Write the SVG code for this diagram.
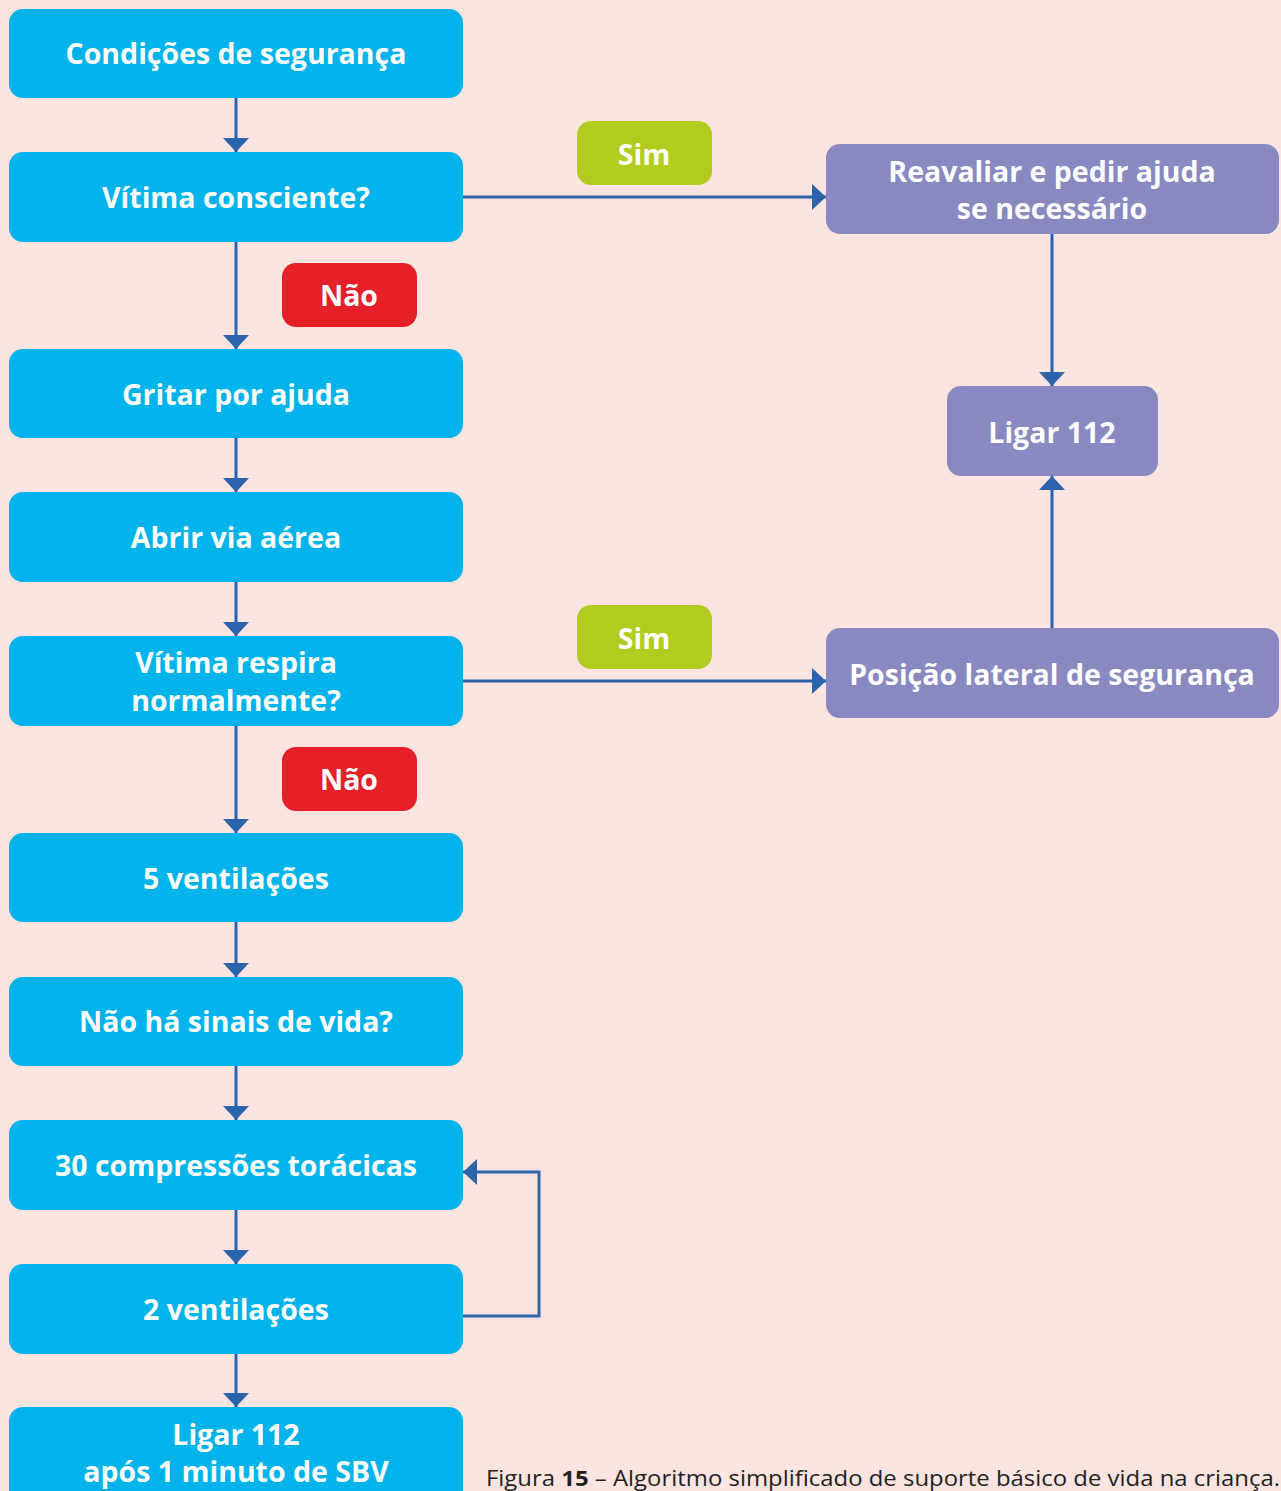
<svg xmlns="http://www.w3.org/2000/svg" width="1281" height="1491" viewBox="0 0 1281 1491">
<style>
.b{fill:#00b3ea}
.p{fill:#8789c0}
.g{fill:#b2cb1f}
.r{fill:#e52028}
.t{font-family:"Open Sans","Noto Sans",sans-serif;font-weight:bold;font-size:28.5px;fill:#fff;text-anchor:middle}
.c{stroke:#2b63ad;stroke-width:3;fill:none}
.cap{font-family:"Open Sans","Noto Sans",sans-serif;font-size:22px;fill:#231f20}
</style>
<defs>
<marker id="a" viewBox="0 0 14 26" refX="14" refY="13" markerWidth="14" markerHeight="26" orient="auto" markerUnits="userSpaceOnUse">
<path d="M0,0 L14,13 L0,26 z" fill="#2b63ad"/>
</marker>
</defs>
<rect width="1281" height="1491" fill="#fce4e0"/>
<g id="connectors">
<line class="c" x1="236" y1="98" x2="236" y2="152" marker-end="url(#a)"/>
<line class="c" x1="236" y1="242" x2="236" y2="349" marker-end="url(#a)"/>
<line class="c" x1="236" y1="438" x2="236" y2="492" marker-end="url(#a)"/>
<line class="c" x1="236" y1="582" x2="236" y2="636" marker-end="url(#a)"/>
<line class="c" x1="236" y1="726" x2="236" y2="833" marker-end="url(#a)"/>
<line class="c" x1="236" y1="922" x2="236" y2="977" marker-end="url(#a)"/>
<line class="c" x1="236" y1="1066" x2="236" y2="1120" marker-end="url(#a)"/>
<line class="c" x1="236" y1="1210" x2="236" y2="1264" marker-end="url(#a)"/>
<line class="c" x1="236" y1="1354" x2="236" y2="1407" marker-end="url(#a)"/>
<line class="c" x1="463" y1="197" x2="826" y2="197" marker-end="url(#a)"/>
<line class="c" x1="463" y1="681" x2="826" y2="681" marker-end="url(#a)"/>
<line class="c" x1="1052" y1="234" x2="1052" y2="386" marker-end="url(#a)"/>
<line class="c" x1="1052" y1="628" x2="1052" y2="476" marker-end="url(#a)"/>
<polyline class="c" points="463,1316 539,1316 539,1172 463,1172" marker-end="url(#a)"/>
</g>
<g id="n1"><rect class="b" x="9" y="9" width="454" height="89" rx="14"/><text class="t" x="236" y="64">Condições de segurança</text></g>
<g id="n2"><rect class="b" x="9" y="152" width="454" height="90" rx="14"/><text class="t" x="236" y="208">Vítima consciente?</text></g>
<g id="n3"><rect class="b" x="9" y="349" width="454" height="89" rx="14"/><text class="t" x="236" y="405">Gritar por ajuda</text></g>
<g id="n4"><rect class="b" x="9" y="492" width="454" height="90" rx="14"/><text class="t" x="236" y="548">Abrir via aérea</text></g>
<g id="n5"><rect class="b" x="9" y="636" width="454" height="90" rx="14"/><text class="t" x="236" y="673">Vítima respira</text><text class="t" x="236" y="711">normalmente?</text></g>
<g id="n6"><rect class="b" x="9" y="833" width="454" height="89" rx="14"/><text class="t" x="236" y="889">5 ventilações</text></g>
<g id="n7"><rect class="b" x="9" y="977" width="454" height="89" rx="14"/><text class="t" x="236" y="1032">Não há sinais de vida?</text></g>
<g id="n8"><rect class="b" x="9" y="1120" width="454" height="90" rx="14"/><text class="t" x="236" y="1176">30 compressões torácicas</text></g>
<g id="n9"><rect class="b" x="9" y="1264" width="454" height="90" rx="14"/><text class="t" x="236" y="1320">2 ventilações</text></g>
<g id="n10"><rect class="b" x="9" y="1407" width="454" height="100" rx="14"/><text class="t" x="236" y="1445">Ligar 112</text><text class="t" x="236" y="1482">após 1 minuto de SBV</text></g>
<g id="r1"><rect class="p" x="826" y="144" width="453" height="90" rx="14"/><text class="t" x="1052" y="182">Reavaliar e pedir ajuda</text><text class="t" x="1052" y="219">se necessário</text></g>
<g id="r2"><rect class="p" x="947" y="386" width="211" height="90" rx="14"/><text class="t" x="1052" y="443">Ligar 112</text></g>
<g id="r3"><rect class="p" x="826" y="628" width="453" height="90" rx="14"/><text class="t" x="1052" y="685">Posição lateral de segurança</text></g>
<g id="sim1"><rect class="g" x="577" y="121" width="135" height="64" rx="14"/><text class="t" x="644" y="165">Sim</text></g>
<g id="sim2"><rect class="g" x="577" y="605" width="135" height="64" rx="14"/><text class="t" x="644" y="649">Sim</text></g>
<g id="nao1"><rect class="r" x="282" y="263" width="135" height="64" rx="14"/><text class="t" x="349" y="306">Não</text></g>
<g id="nao2"><rect class="r" x="282" y="747" width="135" height="64" rx="14"/><text class="t" x="349" y="790">Não</text></g>
<text class="cap" x="486" y="1486" textLength="794" lengthAdjust="spacingAndGlyphs">Figura <tspan font-weight="bold">15</tspan> – Algoritmo simplificado de suporte básico de vida na criança.</text>
</svg>
